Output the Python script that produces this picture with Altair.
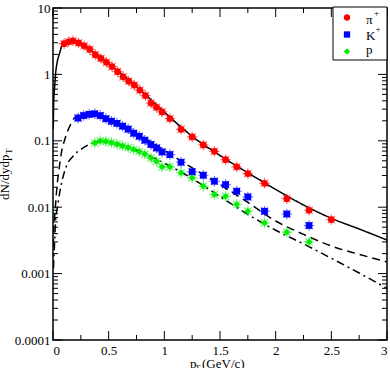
import altair as alt
import pandas as pd

# ---------------- data ----------------
species = ["π⁺", "K⁺", "p"]
colors = ["#ff0000", "#0000ff", "#00ee00"]
shapes = ["circle", "square", "diamond"]

pi_pt = [0.10, 0.14, 0.18, 0.23, 0.28, 0.33, 0.38, 0.43, 0.48, 0.53, 0.58, 0.63, 0.68,
         0.73, 0.78, 0.83, 0.88, 0.93, 0.98, 1.05, 1.15, 1.25, 1.35, 1.45, 1.55, 1.65,
         1.75, 1.9, 2.1, 2.3, 2.5]
pi_y = [2.9, 3.1, 3.2, 2.98, 2.7, 2.38, 1.98, 1.74, 1.52, 1.31, 1.1, 0.92, 0.79,
        0.69, 0.58, 0.48, 0.37, 0.319, 0.272, 0.216, 0.149, 0.1145, 0.0868, 0.0695, 0.052, 0.0405,
        0.0321, 0.0229, 0.0134, 0.009, 0.0065]

k_pt = [0.225, 0.275, 0.325, 0.375, 0.425, 0.475, 0.525, 0.575, 0.625, 0.675, 0.725, 0.775,
        0.825, 0.88, 0.93, 0.98, 1.05, 1.15, 1.25, 1.35, 1.45, 1.55, 1.65, 1.75, 1.9, 2.1, 2.3]
k_y = [0.22, 0.24, 0.25, 0.255, 0.24, 0.215, 0.197, 0.183, 0.166, 0.15, 0.13, 0.117,
       0.102, 0.088, 0.078, 0.068, 0.062, 0.0475, 0.0341, 0.0303, 0.0246, 0.0219, 0.0174, 0.0143,
       0.0087, 0.0079, 0.0053]

p_pt = [0.375, 0.425, 0.475, 0.525, 0.575, 0.625, 0.675, 0.725, 0.775, 0.825, 0.88, 0.93,
        0.98, 1.05, 1.15, 1.25, 1.35, 1.45, 1.55, 1.65, 1.75, 1.9, 2.1, 2.3]
p_y = [0.093, 0.10, 0.098, 0.094, 0.089, 0.084, 0.079, 0.074, 0.069, 0.063, 0.0553, 0.049,
       0.0405, 0.0405, 0.033, 0.0277, 0.0207, 0.0155, 0.0146, 0.011, 0.0087, 0.0058, 0.0042, 0.003]

# fitted curves
fit_pi_pt = [0.002, 0.006, 0.015, 0.024, 0.036, 0.06, 0.084, 0.12, 0.18, 0.25, 0.35, 0.5,
             0.75, 1.0, 1.25, 1.5, 1.75, 2.0, 2.25, 2.5, 2.75, 3.0]
fit_pi_y = [0.15, 0.37, 0.66, 1.05, 1.48, 2.1, 2.8, 3.1, 3.2, 2.95, 2.25, 1.45,
            0.66, 0.27, 0.117, 0.06, 0.033, 0.0185, 0.0108, 0.0068, 0.0047, 0.0032]
fit_k_pt = [0.003, 0.006, 0.015, 0.024, 0.036, 0.054, 0.075, 0.105, 0.15, 0.195, 0.25, 0.35,
            0.5, 0.75, 1.0, 1.25, 1.5, 1.75, 2.0, 2.25, 2.5, 2.75, 3.0]
fit_k_y = [0.0025, 0.0046, 0.0073, 0.0116, 0.0207, 0.0369, 0.0658, 0.104, 0.165, 0.222, 0.25, 0.257,
           0.215, 0.13, 0.072, 0.039, 0.0218, 0.0118, 0.0062, 0.0039, 0.0026, 0.00195, 0.0015]
fit_p_pt = [0.004, 0.013, 0.024, 0.042, 0.06, 0.084, 0.12, 0.18, 0.27, 0.36, 0.45, 0.6,
            0.8, 1.0, 1.25, 1.5, 1.75, 2.0, 2.25, 2.5, 2.75, 3.0]
fit_p_y = [0.0012, 0.0026, 0.0065, 0.0104, 0.0165, 0.0261, 0.0414, 0.0585, 0.078, 0.093, 0.098, 0.088,
           0.066, 0.046, 0.027, 0.0145, 0.0078, 0.0045, 0.0028, 0.0017, 0.00102, 0.0006]

x_major = [0, 0.5, 1, 1.5, 2, 2.5, 3]
x_minor = [0.25, 0.75, 1.25, 1.75, 2.25, 2.75]
y_major = [0.0001, 0.001, 0.01, 0.1, 1, 10]
y_minor = [m * d for d in [0.0001, 0.001, 0.01, 0.1, 1] for m in range(2, 10)]

# ---------------- tables ----------------
pts = pd.concat([
    pd.DataFrame({"pt": pi_pt, "y": pi_y, "species": species[0]}),
    pd.DataFrame({"pt": k_pt, "y": k_y, "species": species[1]}),
    pd.DataFrame({"pt": p_pt, "y": p_y, "species": species[2]}),
])
fits = pd.concat([
    pd.DataFrame({"pt": fit_pi_pt, "y": fit_pi_y, "curve": "pi"}),
    pd.DataFrame({"pt": fit_k_pt, "y": fit_k_y, "curve": "K"}),
    pd.DataFrame({"pt": fit_p_pt, "y": fit_p_y, "curve": "p"}),
])

W, H = 334, 332
FONT = "Liberation Serif"

xscale = alt.Scale(domain=[0, 3], nice=False, zero=False)
yscale = alt.Scale(type="log", domain=[0.0001, 10], nice=False)
xaxis = alt.Axis(values=x_major, format="~g", title=None, labelPadding=4, grid=False,
                 ticks=False, domain=False, labelFont=FONT, labelFontSize=13,
                 labelColor="black")
yaxis = alt.Axis(values=y_major, format="~g", title=None, labelPadding=3, grid=False,
                 ticks=False, domain=False, labelFont=FONT, labelFontSize=13,
                 labelColor="black")
X = alt.X("pt:Q", scale=xscale, axis=xaxis)
Y = alt.Y("y:Q", scale=yscale, axis=yaxis)
color_scale = alt.Scale(domain=species, range=colors)
shape_scale = alt.Scale(domain=species, range=shapes)

lines = alt.Chart(fits).mark_line(color="black", strokeWidth=1.5, clip=True,
                                  interpolate="monotone").encode(
    x=X, y=Y,
    strokeDash=alt.StrokeDash("curve:N", scale=alt.Scale(domain=["pi", "K", "p"],
                              range=[[1, 0], [8, 5], [8, 4, 2, 4]]), legend=None),
)

stars = alt.Chart(pts).mark_point(
    shape="M-1,0L1,0M0,-1L0,1M-0.7,-0.7L0.7,0.7M-0.7,0.7L0.7,-0.7",
    filled=False, size=110, strokeWidth=1.2, opacity=0.55, clip=True).encode(
    x=X, y=Y,
    stroke=alt.Stroke("species:N", scale=color_scale, legend=None),
)

points = alt.Chart(pts).mark_point(filled=True, opacity=1, size=45, clip=True).encode(
    x=X, y=Y,
    color=alt.Color("species:N", scale=color_scale, legend=None),
    shape=alt.Shape("species:N", scale=shape_scale, legend=None),
)

# inward tick marks on all four sides
xt_major = pd.DataFrame({"pt": x_major})
xt_minor = pd.DataFrame({"pt": x_minor})
yt_major = pd.DataFrame({"y": y_major})
yt_minor = pd.DataFrame({"y": y_minor})

def xticks(df, length):
    bottom = alt.Chart(df).mark_rule(color="black", strokeWidth=1).encode(
        x=X, y=alt.value(H), y2=alt.value(H - length))
    top = alt.Chart(df).mark_rule(color="black", strokeWidth=1).encode(
        x=X, y=alt.value(0), y2=alt.value(length))
    return [bottom, top]

def yticks(df, length):
    left = alt.Chart(df).mark_rule(color="black", strokeWidth=1).encode(
        y=Y, x=alt.value(0), x2=alt.value(length))
    right = alt.Chart(df).mark_rule(color="black", strokeWidth=1).encode(
        y=Y, x=alt.value(W), x2=alt.value(W - length))
    return [left, right]

ticks = xticks(xt_major, 9) + xticks(xt_minor, 5) + yticks(yt_major, 9) + yticks(yt_minor, 5)

def label(txt, x, y, size=13, angle=0):
    return alt.Chart(pd.DataFrame({"t": [txt]})).mark_text(
        font=FONT, fontSize=size, color="black", align="left", baseline="alphabetic",
        angle=angle).encode(text="t:N", x=alt.value(x), y=alt.value(y))

titles = [
    label("p", 137, 360),
    label("T", 142, 363, size=9),
    label("(GeV/c)", 149, 360),
    label("dN/dydp", -44, 192, angle=270),
    label("T", -41, 146, size=9, angle=270),
]

# legend box drawn by hand (top right corner)
legend_box = alt.Chart(pd.DataFrame({"a": [0]})).mark_rect(
    fill="white", stroke="black", strokeWidth=1).encode(
    x=alt.value(280), x2=alt.value(334), y=alt.value(-1), y2=alt.value(52))

def legend_symbol(i, ypix):
    return alt.Chart(pd.DataFrame({"species": [species[i]]})).mark_point(
        filled=True, opacity=1, size=40).encode(
        x=alt.value(294), y=alt.value(ypix),
        color=alt.Color("species:N", scale=color_scale, legend=None),
        shape=alt.Shape("species:N", scale=shape_scale, legend=None))

legend_layers = [
    legend_box,
    legend_symbol(0, 9.5), legend_symbol(1, 26.5), legend_symbol(2, 43.5),
    label("π", 313, 15.5), label("+", 321, 8, size=9),
    label("K", 313, 31.5), label("+", 322.5, 24, size=9),
    label("p", 313, 45.5),
]

chart = alt.layer(lines, stars, points, *ticks, *titles, *legend_layers).properties(
    width=W, height=H,
    padding={"left": 53, "top": 8, "right": 3, "bottom": 28},
    autosize="none",
    background="white",
).configure_view(stroke="black", strokeWidth=1.5).configure_axis(
    labelFont=FONT, labelFontSize=13, labelColor="black", ticks=False, domain=False, grid=False
)

chart.save("out.html", embed_options={"renderer": "svg", "actions": False})
